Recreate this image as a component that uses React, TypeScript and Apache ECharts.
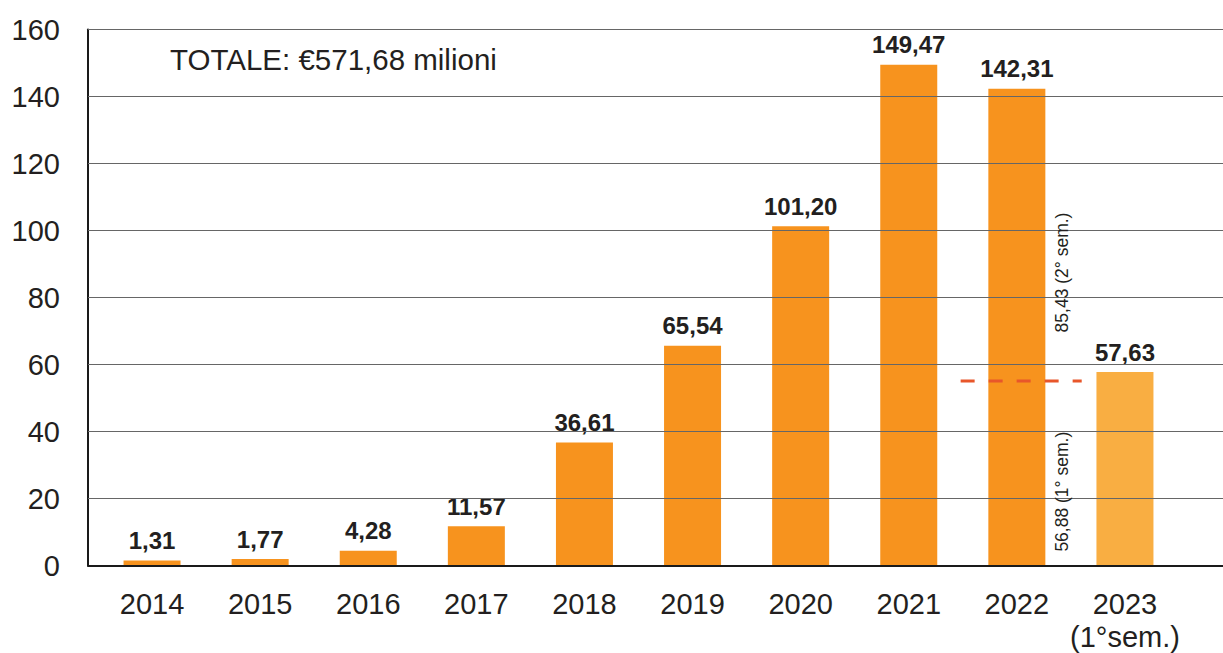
import React, { useEffect, useRef } from "react";
import * as echarts from "echarts";

const years = ["2014", "2015", "2016", "2017", "2018", "2019", "2020", "2021", "2022", "2023\n(1°sem.)"];
const values = [1.31, 1.77, 4.28, 11.57, 36.61, 65.54, 101.2, 149.47, 142.31, 57.63];
const yTicks = { min: 0, max: 160, interval: 20 };
const totalText = "TOTALE: €571,68 milioni";
const splitYearIndex = 8;
const splitLevel = 55;
const semesterLabels = ["56,88 (1° sem.)", "85,43 (2° sem.)"];
const semesterLabelAnchors = [4, 69.5];

const FONT = "'Liberation Sans', Arial, Helvetica, sans-serif";
const ORANGE = "#F7931E";
const LIGHT_ORANGE = "#F9AE42";
const INK = "#231F20";

const gridValues: number[] = [];
for (let v = yTicks.min + yTicks.interval; v <= yTicks.max; v += yTicks.interval) gridValues.push(v);

export default function App() {
  const ref = useRef<HTMLDivElement>(null);
  useEffect(() => {
    if (!ref.current) return;
    const chart = echarts.init(ref.current, undefined, { renderer: "svg" });
    const top = 29.5;
    const bottom = 87.5;
    chart.setOption({
      animation: false,
      backgroundColor: "#ffffff",
      grid: [
        { left: 88, right: 0, top, bottom },
        { left: 98, right: 44, top, bottom },
      ],
      xAxis: [
        {
          gridIndex: 0,
          type: "category",
          data: years,
          z: 10,
          axisLine: { show: true, lineStyle: { color: "#1a1a1a", width: 2 } },
          axisTick: { show: false },
          axisLabel: { show: false },
        },
        {
          gridIndex: 1,
          type: "category",
          data: years,
          axisLine: { show: false },
          axisTick: { show: false },
          axisLabel: {
            interval: 0,
            color: INK,
            fontFamily: FONT,
            fontSize: 29,
            lineHeight: 33,
            margin: 22,
          },
        },
      ],
      yAxis: [
        {
          gridIndex: 0,
          type: "value",
          ...yTicks,
          z: 10,
          axisLine: { show: true, lineStyle: { color: "#1a1a1a", width: 2 } },
          axisTick: { show: false },
          axisLabel: { color: INK, fontFamily: FONT, fontSize: 29, margin: 28 },
          splitLine: { show: true, lineStyle: { color: "#666666", width: 1.2 } },
        },
        {
          gridIndex: 1,
          type: "value",
          ...yTicks,
          show: false,
          splitLine: { show: false },
        },
      ],
      series: [
        {
          type: "bar",
          xAxisIndex: 1,
          yAxisIndex: 1,
          barWidth: 57,
          z: 2,
          data: values.map((v, i) => ({
            value: v,
            itemStyle: { color: i === values.length - 1 ? LIGHT_ORANGE : ORANGE },
          })),
          label: {
            show: true,
            position: "top",
            distance: 8,
            color: INK,
            fontFamily: FONT,
            fontWeight: "bold",
            fontSize: 24,
            formatter: (p: any) => Number(p.value).toFixed(2).replace(".", ","),
          },
        },
        {
          type: "custom",
          xAxisIndex: 0,
          yAxisIndex: 0,
          z: 15,
          silent: true,
          data: gridValues.map((v) => [0, v]),
          renderItem: (params: any, api: any) => {
            const cs = params.coordSys;
            const y = api.coord([0, api.value(1)])[1];
            return {
              type: "line",
              shape: { x1: cs.x, y1: y, x2: cs.x + cs.width, y2: y },
              style: { stroke: "#666666", lineWidth: 1.2 },
            };
          },
        },
        {
          type: "custom",
          xAxisIndex: 1,
          yAxisIndex: 1,
          z: 20,
          data: [[splitYearIndex, splitLevel]],
          renderItem: (params: any, api: any) => {
            const idx = api.value(0);
            const c = api.coord([idx, api.value(1)]);
            const band = api.size([1, 0])[0];
            const tx = c[0] + 0.42 * band;
            const children: any[] = [
              {
                type: "line",
                shape: { x1: c[0] - 0.52 * band, y1: c[1], x2: c[0] + 0.6 * band, y2: c[1] },
                style: { stroke: "#E8562A", lineWidth: 3, lineDash: [14, 14] },
              },
            ];
            semesterLabels.forEach((t, k) => {
              const p = api.coord([idx, semesterLabelAnchors[k]]);
              children.push({
                type: "text",
                x: tx,
                y: p[1],
                rotation: Math.PI / 2,
                style: {
                  text: t,
                  x: 0,
                  y: 0,
                  fill: INK,
                  fontFamily: FONT,
                  fontSize: 17.5,
                  align: "left",
                  verticalAlign: "middle",
                },
              });
            });
            return { type: "group", children };
          },
        },
      ],
      graphic: [
        {
          type: "text",
          left: 170,
          top: 44,
          style: {
            text: totalText,
            fill: INK,
            fontFamily: FONT,
            fontSize: 29.5,
          },
        },
      ],
    });
    return () => chart.dispose();
  }, []);
  return (
    <div
      ref={ref}
      style={{ position: "fixed", left: 0, top: 0, width: 1223, height: 653, background: "#fff" }}
    />
  );
}
